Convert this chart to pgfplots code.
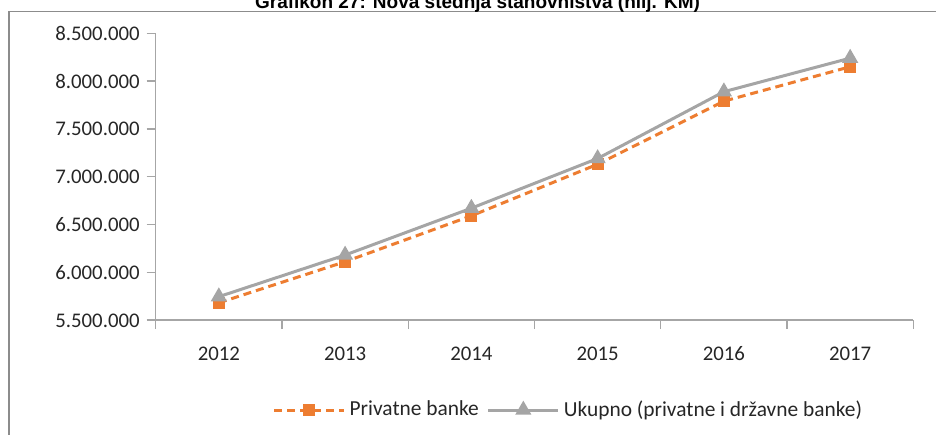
\documentclass[border=0pt]{standalone}
\usepackage{fontspec}
\setmainfont{Carlito}
\newfontfamily\titlefont{Liberation Sans}
\usepackage{pgfplots}
\pgfplotsset{compat=1.18}
\definecolor{orng}{HTML}{ED7D31}
\definecolor{gry}{HTML}{A5A5A5}
\definecolor{axgray}{HTML}{A6A6A6}
\definecolor{txt}{HTML}{262626}
\definecolor{frame}{HTML}{8C8C8C}
\begin{document}
\begin{tikzpicture}[x=0.5pt,y=-0.5pt]
\begin{axis}[
  at={(77.85pt,-160pt)}, anchor=south west,
  width=378.8pt, height=143.35pt, scale only axis,
  xmin=-0.5, xmax=5.5, ymin=5500000, ymax=8500000,
  axis x line*=bottom, axis y line*=left,
  axis line style={axgray, line width=0.7pt},
  tick align=outside, major tick length=4.5pt, minor tick length=4.5pt,
  tick style={axgray, line width=0.7pt},
  xtick={0,1,2,3,4,5}, xticklabels={2012,2013,2014,2015,2016,2017},
  major x tick style={draw=none},
  minor xtick={-0.5,0.5,1.5,2.5,3.5,4.5,5.5},
  xticklabel style={yshift=-5pt},
  ytick={5500000,6000000,6500000,7000000,7500000,8000000,8500000},
  scaled y ticks=false,
  yticklabel style={/pgf/number format/.cd, fixed, precision=0, 1000 sep={.}},
  /pgf/number format/assume math mode=true,
  tick label style={font=\fontsize{10.4}{12}\selectfont, color=txt, text height=7pt, text depth=0pt},
  legend columns=2,
  legend style={at={(0.546,-0.314)}, anchor=center, draw=none, fill=none,
    font=\fontsize{10.7}{12}\selectfont, text=txt,
    /tikz/every even column/.append style={column sep=2pt}},
  legend image code/.code={\draw[mark repeat=2,mark phase=2] plot coordinates {(0pt,0pt) (17.5pt,0pt) (35pt,0pt)};},
  clip=false,
]
\addplot[orng, line width=1.5pt, dash pattern=on 4pt off 2.5pt, mark=square*, mark size=2.2pt, mark options={solid}]
  coordinates {(0,5680000) (1,6110000) (2,6590000) (3,7130000) (4,7790000) (5,8150000)};
\addlegendentry{Privatne banke}
\addplot[gry, line width=1.5pt, mark=triangle*, mark size=3.2pt, mark options={solid}]
  coordinates {(0,5744000) (1,6180000) (2,6670000) (3,7190000) (4,7889000) (5,8240000)};
\addlegendentry{Ukupno (privatne i državne banke)}
\end{axis}
\draw[frame, line width=0.6pt] (9,440) -- (9,11.5) -- (940,11.5);
\node[anchor=base, font=\titlefont\bfseries\fontsize{9.5}{11}\selectfont, inner sep=0] at (477.5,8) {Grafikon 27: Nova štednja stanovništva (hilj. KM)};
\pgfresetboundingbox
\useasboundingbox (0,0) rectangle (936,434);
\end{tikzpicture}
\end{document}
